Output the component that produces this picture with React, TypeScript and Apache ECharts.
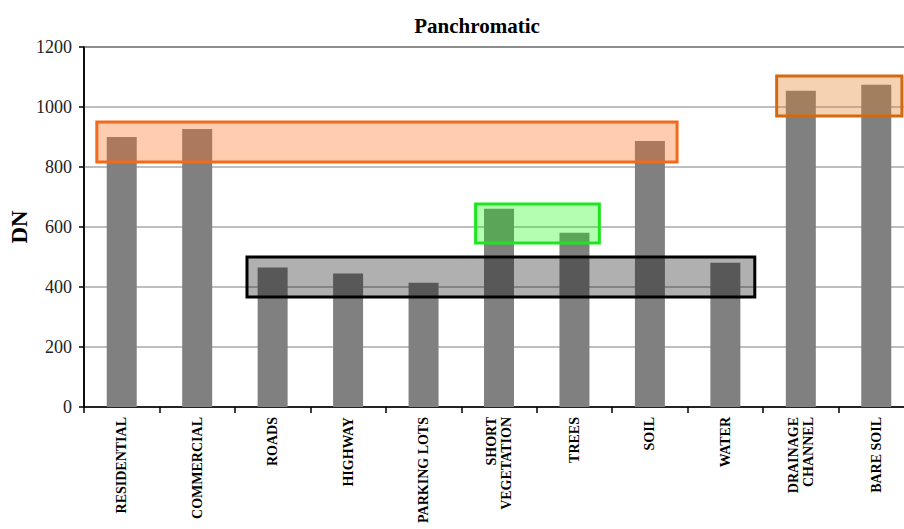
import React, { useEffect, useRef } from "react";
import * as echarts from "echarts";

const categories = [
  "RESIDENTIAL",
  "COMMERCIAL",
  "ROADS",
  "HIGHWAY",
  "PARKING LOTS",
  "SHORT\nVEGETATION",
  "TREES",
  "SOIL",
  "WATER",
  "DRAINAGE\nCHANNEL",
  "BARE SOIL",
];

const dnValues = [900, 927, 465, 445, 414, 661, 581, 887, 481, 1054, 1074];

const yTicks = { min: 0, max: 1200, interval: 200 };

// annotation boxes: [c0, c1] in category units (0 = left edge of first band), [v0, v1] in DN
const boxes = [
  { c0: 0.17, c1: 7.86, v0: 817, v1: 950, fill: "rgba(255,110,30,0.35)", stroke: "#F26B1D" },
  { c0: 9.18, c1: 10.84, v0: 970, v1: 1103, fill: "rgba(225,125,35,0.35)", stroke: "#D4690F" },
  { c0: 5.19, c1: 6.83, v0: 547, v1: 677, fill: "rgba(0,255,0,0.3)", stroke: "#1EE61E" },
  { c0: 2.16, c1: 8.89, v0: 367, v1: 500, fill: "rgba(0,0,0,0.31)", stroke: "#000000" },
];

const FONT = '"Liberation Serif", "Times New Roman", serif';
const GRID_LEFT = 84;
const GRID_TOP = 47;
const GRID_W = 830;
const GRID_H = 360;

export default function App() {
  const ref = useRef<HTMLDivElement>(null);

  useEffect(() => {
    if (!ref.current) return;
    const chart = echarts.init(ref.current, null, { renderer: "svg" });
    const band = GRID_W / categories.length;
    const vToY = (v: number) => GRID_TOP + GRID_H * (1 - (v - yTicks.min) / (yTicks.max - yTicks.min));

    const graphics = boxes.map((b) => ({
      type: "rect",
      z: 100,
      shape: {
        x: GRID_LEFT + b.c0 * band,
        y: vToY(b.v1),
        width: (b.c1 - b.c0) * band,
        height: vToY(b.v0) - vToY(b.v1),
      },
      style: { fill: b.fill, stroke: b.stroke, lineWidth: 3 },
    }));

    chart.setOption({
      animation: false,
      title: {
        text: "Panchromatic",
        left: 472,
        top: 10,
        textAlign: "center",
        textStyle: { fontFamily: FONT, fontSize: 21, fontWeight: "bold", color: "#000" },
      },
      grid: {
        left: GRID_LEFT,
        top: GRID_TOP,
        width: GRID_W,
        height: GRID_H,
        outerBoundsMode: "none",
        containLabel: false,
        show: true,
        borderColor: "#000",
        borderWidth: 1.5,
        backgroundColor: "transparent",
      },
      xAxis: {
        type: "category",
        data: categories,
        axisLine: { lineStyle: { color: "#000", width: 1.5 } },
        axisTick: { show: true, length: 6, lineStyle: { color: "#000", width: 1.5 } },
        axisLabel: {
          rotate: 90,
          interval: 0,
          margin: 10,
          fontFamily: FONT,
          fontSize: 14,
          fontWeight: "bold",
          color: "#000",
          lineHeight: 15,
        },
      },
      yAxis: {
        type: "value",
        min: yTicks.min,
        max: yTicks.max,
        interval: yTicks.interval,
        name: "DN",
        nameLocation: "middle",
        nameGap: 53,
        nameMoveOverlap: false,
        nameRotate: 90,
        nameTextStyle: { fontFamily: FONT, fontSize: 23, fontWeight: "bold", color: "#000" },
        axisLine: { show: true, lineStyle: { color: "#000", width: 1.5 } },
        axisTick: { show: true, length: 5, lineStyle: { color: "#000", width: 1.5 } },
        axisLabel: {
          fontFamily: FONT,
          fontSize: 18,
          color: "#222",
          margin: 12,
          formatter: (v: number) => String(v),
        },
        splitLine: { show: true, lineStyle: { color: "#a8a8a8", width: 1.5 } },
      },
      series: [
        {
          type: "bar",
          data: dnValues,
          barWidth: 30,
          itemStyle: { color: "#808080" },
        },
      ],
      graphic: graphics,
    });

    return () => chart.dispose();
  }, []);

  return <div ref={ref} style={{ width: 904, height: 529, position: "absolute", left: 0, top: 0 }} />;
}
